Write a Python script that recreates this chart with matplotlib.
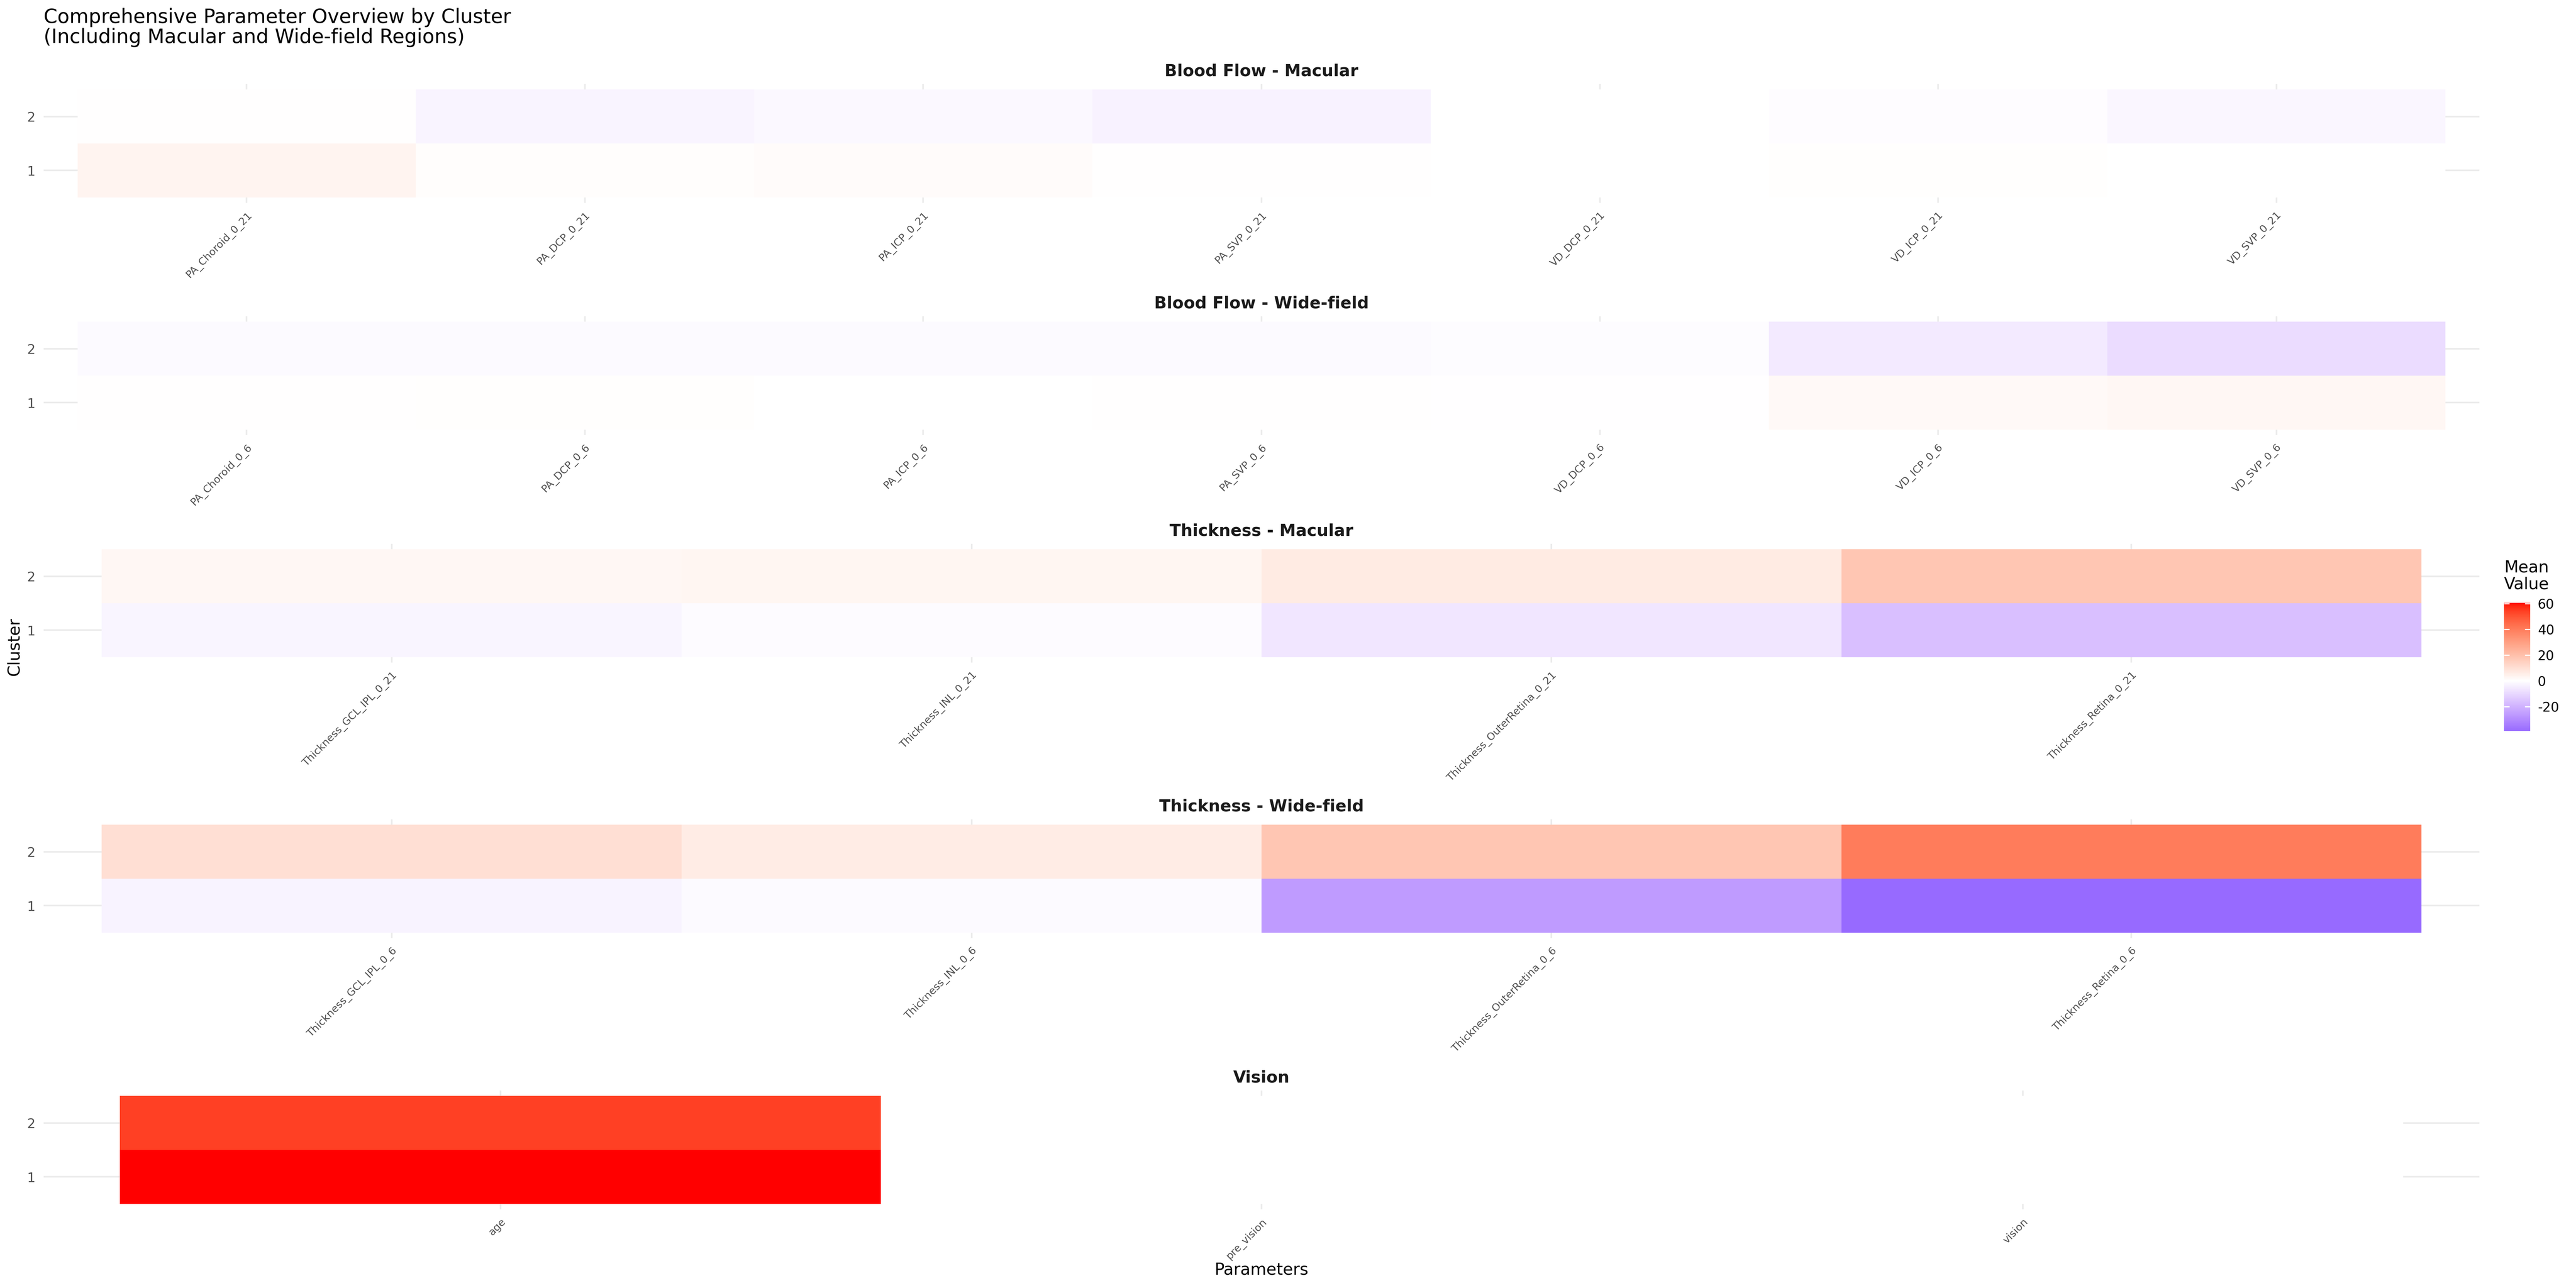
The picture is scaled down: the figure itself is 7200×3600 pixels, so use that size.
import numpy as np
import matplotlib
matplotlib.use("Agg")
import matplotlib.pyplot as plt
from matplotlib.colors import ListedColormap, Normalize
from matplotlib.cm import ScalarMappable

# values (cluster 1 / cluster 2 means)
bf_mac_params = ["PA_Choroid_0_21", "PA_DCP_0_21", "PA_ICP_0_21", "PA_SVP_0_21",
                 "VD_DCP_0_21", "VD_ICP_0_21", "VD_SVP_0_21"]
bf_mac_c1 = [3.5, 0.6, 1.2, 0.3, 0.0, 0.4, 0.1]
bf_mac_c2 = [0.2, -2.8, -1.8, -3.2, 0.0, -0.6, -2.2]

bf_wide_params = ["PA_Choroid_0_6", "PA_DCP_0_6", "PA_ICP_0_6", "PA_SVP_0_6",
                  "VD_DCP_0_6", "VD_ICP_0_6", "VD_SVP_0_6"]
bf_wide_c1 = [0.3, 0.4, -0.1, 0.2, -0.2, 2.0, 2.5]
bf_wide_c2 = [-1.2, -1.2, -1.2, -1.2, -0.8, -5.5, -9.0]

th_mac_params = ["Thickness_GCL_IPL_0_21", "Thickness_INL_0_21",
                 "Thickness_OuterRetina_0_21", "Thickness_Retina_0_21"]
th_mac_c1 = [-2.5, -1.0, -6.5, -16.5]
th_mac_c2 = [2.5, 3.0, 6.5, 18.0]

th_wide_params = ["Thickness_GCL_IPL_0_6", "Thickness_INL_0_6",
                  "Thickness_OuterRetina_0_6", "Thickness_Retina_0_6"]
th_wide_c1 = [-3.0, -1.2, -26.0, -39.0]
th_wide_c2 = [10.0, 6.0, 18.0, 40.0]

vis_params = ["age", "pre_vision", "vision"]
vis_c1 = [60.6, 0.1, 0.05]
vis_c2 = [54.0, 0.1, 0.05]

panels = [
    ("Blood Flow - Macular", bf_mac_params, bf_mac_c1, bf_mac_c2),
    ("Blood Flow - Wide-field", bf_wide_params, bf_wide_c1, bf_wide_c2),
    ("Thickness - Macular", th_mac_params, th_mac_c1, th_mac_c2),
    ("Thickness - Wide-field", th_wide_params, th_wide_c1, th_wide_c2),
    ("Vision", vis_params, vis_c1, vis_c2),
]


# ggplot-style gradient2 (blue / white / red, interpolated in Lab)
def srgb_to_lab(rgb):
    rgb = np.asarray(rgb, float)
    lin = np.where(rgb > 0.04045, ((rgb + 0.055) / 1.055) ** 2.4, rgb / 12.92)
    M = np.array([[0.4124, 0.3576, 0.1805],
                  [0.2126, 0.7152, 0.0722],
                  [0.0193, 0.1192, 0.9505]])
    xyz = lin @ M.T / np.array([0.95047, 1.0, 1.08883])
    f = np.where(xyz > 0.008856, np.cbrt(xyz), 7.787 * xyz + 16 / 116)
    return np.stack([116 * f[..., 1] - 16,
                     500 * (f[..., 0] - f[..., 1]),
                     200 * (f[..., 1] - f[..., 2])], -1)


def lab_to_srgb(lab):
    fy = (lab[..., 0] + 16) / 116
    fx = fy + lab[..., 1] / 500
    fz = fy - lab[..., 2] / 200
    f = np.stack([fx, fy, fz], -1)
    xyz = np.where(f > 0.206893, f ** 3, (f - 16 / 116) / 7.787) * np.array([0.95047, 1.0, 1.08883])
    Minv = np.array([[3.2406, -1.5372, -0.4986],
                     [-0.9689, 1.8758, 0.0415],
                     [0.0557, -0.2040, 1.0570]])
    lin = np.clip(xyz @ Minv.T, 0, 1)
    rgb = np.where(lin > 0.0031308, 1.055 * lin ** (1 / 2.4) - 0.055, 12.92 * lin)
    return np.clip(rgb, 0, 1)


lab_low = srgb_to_lab([0, 0, 1])
lab_mid = srgb_to_lab([1, 1, 1])
lab_high = srgb_to_lab([1, 0, 0])
t = np.linspace(0, 1, 1024)[:, None]
lab = np.where(t < 0.5, lab_low + (lab_mid - lab_low) * (t / 0.5),
               lab_mid + (lab_high - lab_mid) * ((t - 0.5) / 0.5))
cmap = ListedColormap(lab_to_srgb(lab))

all_vals = np.concatenate([np.r_[p[2], p[3]] for p in panels])
vmax = np.abs(all_vals).max()
norm = Normalize(-vmax, vmax)

plt.rcParams['font.family'] = 'DejaVu Sans'
plt.rcParams['axes.unicode_minus'] = False
fig = plt.figure(figsize=(24, 12), dpi=300)

left = 122 / 7200
width = (6930 - 122) / 7200
height = 332 / 3600
bottoms = [1 - 567 / 3600, 1 - 1216 / 3600, 1 - 1852 / 3600, 1 - 2622 / 3600, 1 - 3380 / 3600]

for (name, params, c1, c2), b in zip(panels, bottoms):
    ax = fig.add_axes([left, b, width, height])
    n = len(params)
    z = np.array([c1, c2])
    ax.pcolormesh(np.arange(n + 1) + 0.5, np.array([0.5, 1.5, 2.5]), z,
                  cmap=cmap, norm=norm, shading='flat', zorder=1)
    ax.set_xlim(0.4, n + 0.6)
    ax.set_ylim(0.4, 2.6)
    ax.set_xticks(np.arange(1, n + 1))
    ax.set_xticklabels(params, rotation=45, ha='right', va='top',
                       rotation_mode='anchor', fontsize=7, color='#4D4D4D')
    ax.set_yticks([1, 2])
    ax.set_yticklabels(['1', '2'], fontsize=8.8, color='#4D4D4D')
    ax.tick_params(axis='x', length=0, pad=5)
    ax.tick_params(axis='y', length=0, pad=5.5)
    ax.grid(True, color='#EBEBEB', linewidth=1.07)
    ax.set_axisbelow(True)
    for s in ax.spines.values():
        s.set_visible(False)
    ax.set_title(name, fontsize=11, fontweight='bold', color='#1A1A1A', pad=5.5)

# colour bar legend
cax = fig.add_axes([6999 / 7200, 1 - 2043 / 3600, 73 / 7200, 358 / 3600])
sm = ScalarMappable(norm=norm, cmap=cmap)
cb = fig.colorbar(sm, cax=cax, boundaries=np.linspace(all_vals.min(), all_vals.max(), 400),
                  ticks=[-20, 0, 20, 40, 60])
cb.outline.set_visible(False)
cax.tick_params(direction='in', color='white', length=3.5, width=0.8,
                left=True, right=True, labelleft=False, labelright=True,
                labelsize=8.8, pad=5)
cax.minorticks_off()
fig.text(6999 / 7200, 1 - 1565 / 3600, "Mean\nValue", ha='left', va='top',
         fontsize=11, linespacing=1.05)

fig.text(left, 1 - 22 / 3600,
         "Comprehensive Parameter Overview by Cluster\n(Including Macular and Wide-field Regions)",
         ha='left', va='top', fontsize=13.2, linespacing=1.05)
fig.text(40 / 7200, 0.4978, "Cluster", rotation=90, ha='center', va='center', fontsize=11)
fig.text(left + width / 2, 1 - 3550 / 3600, "Parameters", ha='center', va='center', fontsize=11)

fig.savefig("out.png", dpi=300, facecolor='white')
